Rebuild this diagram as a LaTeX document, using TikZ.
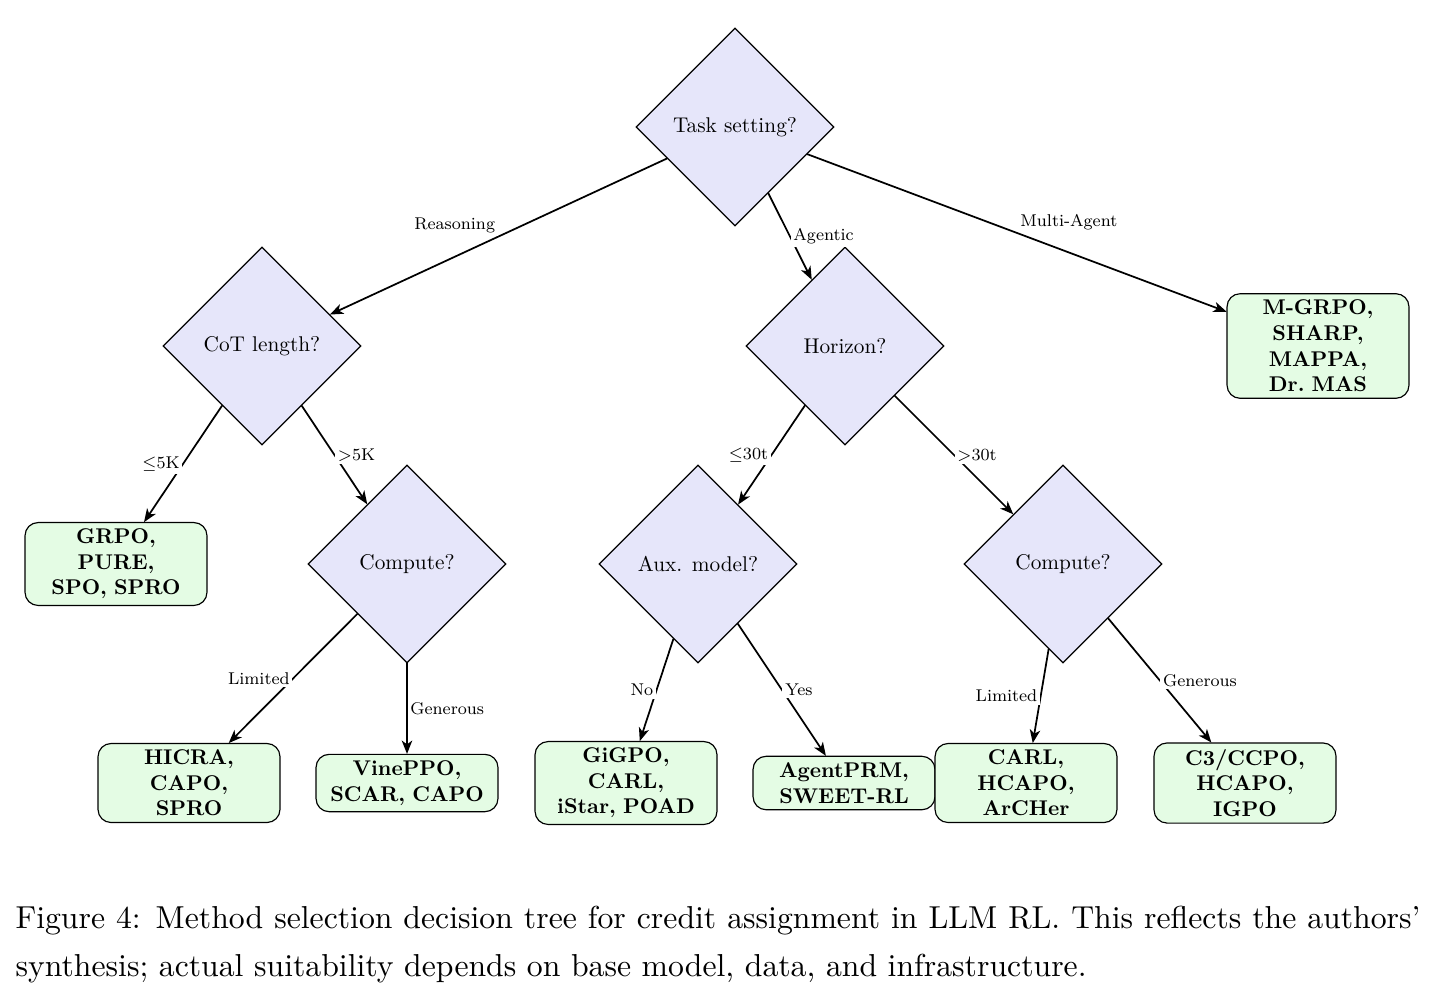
\documentclass[tikz,border=0pt]{standalone}
\usetikzlibrary{shapes.geometric,arrows.meta}
\definecolor{decfill}{HTML}{E6E6FA}
\definecolor{leaffill}{HTML}{E4FCE4}
\begin{document}
\begin{tikzpicture}[x=0.345pt,y=-0.345pt,
  decision/.style={diamond, aspect=1, draw, fill=decfill, minimum width=92.9pt, minimum height=92.9pt, inner sep=1pt, font=\normalsize, scale=0.735},
  leaf/.style={draw, fill=leaffill, rounded corners=4.5pt, text width=77.4pt, align=center, inner xsep=4pt, inner ysep=3pt, font=\bfseries, scale=0.735},
  lab/.style={font=\footnotesize, fill=white, inner sep=1.3pt, scale=0.735},
  arr/.style={-{Stealth[length=4.6pt,width=3.6pt,inset=1.3pt]}, line width=0.6pt}]
\useasboundingbox (0,0) rectangle (1434,999);
% decisions
\node[decision] (task) at (735,127) {Task setting?};
\node[decision] (cot) at (262,346) {CoT length?};
\node[decision] (hor) at (845,346) {Horizon?};
\node[decision] (compA) at (407,564) {Compute?};
\node[decision] (aux) at (698,564) {Aux. model?};
\node[decision] (compB) at (1063,564) {Compute?};
% leaves
\node[leaf] (ma) at (1318,346) {M-GRPO,\\SHARP,\\MAPPA,\\Dr.\ MAS};
\node[leaf] (grpo) at (116,564) {GRPO,\\PURE,\\SPO, SPRO};
\node[leaf] (hicra) at (189,783) {HICRA,\\CAPO,\\SPRO};
\node[leaf] (vine) at (407,783) {VinePPO,\\SCAR, CAPO};
\node[leaf] (gigpo) at (626,783) {GiGPO,\\CARL,\\iStar, POAD};
\node[leaf] (aprm) at (844,783) {AgentPRM,\\SWEET-RL};
\node[leaf] (carl) at (1026,783) {CARL,\\HCAPO,\\ArCHer};
\node[leaf] (ccpo) at (1245,783) {C3/CCPO,\\HCAPO,\\IGPO};
% edges
\draw[arr] (task) -- node[lab, midway, above left] {Reasoning} (cot);
\draw[arr] (task) -- node[lab, midway, right] {Agentic} (hor);
\draw[arr] (task) -- node[lab, midway, above right] {Multi-Agent} (ma);
\draw[arr] (cot) -- node[lab, midway, left] {$\le$5K} (grpo);
\draw[arr] (cot) -- node[lab, midway, right] {$>$5K} (compA);
\draw[arr] (hor) -- node[lab, midway, left] {$\le$30t} (aux);
\draw[arr] (hor) -- node[lab, midway, right] {$>$30t} (compB);
\draw[arr] (compA) -- node[lab, midway, left] {Limited} (hicra);
\draw[arr] (compA) -- node[lab, midway, right] {Generous} (vine);
\draw[arr] (aux) -- node[lab, midway, left] {No} (gigpo);
\draw[arr] (aux) -- node[lab, midway, right] {Yes} (aprm);
\draw[arr] (compB) -- node[lab, midway, left] {Limited} (carl);
\draw[arr] (compB) -- node[lab, midway, right] {Generous} (ccpo);
% caption
\node[anchor=base west, inner sep=0pt] (cap) at (15,928) {\parbox[t]{484.7pt}{\fontsize{10.95}{16.7}\selectfont Figure 4: Method selection decision tree for credit assignment in LLM RL. This reflects the authors'\linebreak synthesis; actual suitability depends on base model, data, and infrastructure.}};
\end{tikzpicture}
\end{document}
